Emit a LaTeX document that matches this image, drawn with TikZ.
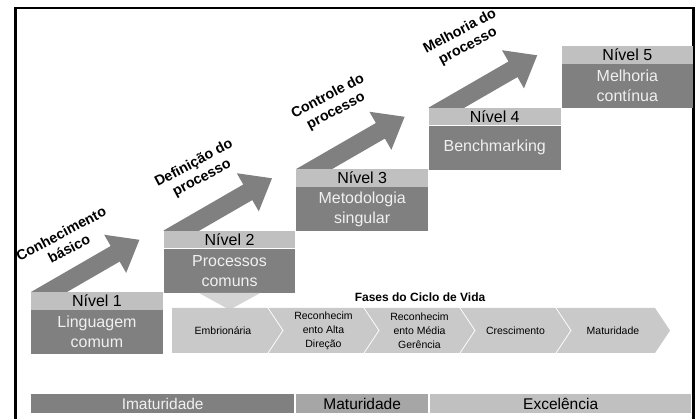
\documentclass[tikz,border=0pt]{standalone}
\usepackage{fontspec}
\setmainfont{Liberation Sans}
\usetikzlibrary{calc}

\definecolor{stepdark}{RGB}{128,128,128}
\definecolor{hdrgray}{RGB}{192,192,192}
\definecolor{bodytext}{RGB}{240,240,240}
\definecolor{chevfill}{RGB}{201,201,201}
\definecolor{trifill}{RGB}{212,212,212}
\definecolor{midgray}{RGB}{166,166,166}
\definecolor{lightbar}{RGB}{192,192,192}

\begin{document}
\begin{tikzpicture}[x=1pt, y=-1pt,
  hdr/.style={fill=hdrgray, minimum width=131.5pt, minimum height=17.5pt,
    inner sep=0pt, anchor=north west, font=\fontsize{16}{20}\selectfont},
  bodybox/.style={fill=stepdark, text=bodytext, minimum width=131.5pt,
    minimum height=44pt, inner sep=0pt, anchor=north west, align=center,
    font=\fontsize{16}{20}\selectfont},
  blockarrow/.style={fill=stepdark},
  steplabel/.style={font=\bfseries\fontsize{14.3}{17}\selectfont, align=center,
    inner sep=0pt, rotate=28},
  phasetext/.style={font=\fontsize{10.5}{14}\selectfont, align=center, inner sep=0pt},
  sep/.style={draw=white, line width=0.8pt},
  bar/.style={minimum height=19pt, inner sep=0pt, anchor=north west,
    font=\fontsize{15.5}{18}\selectfont}
]
\useasboundingbox (0,0) rectangle (697,419);

% outer frame (open at the bottom)
\draw[line width=2.5pt] (15.5,419) -- (15.5,8) -- (693.5,8) -- (693.5,419);

% top-left corners of the five levels
\coordinate (c1) at (31,292);
\coordinate (c2) at (163.6,230.5);
\coordinate (c3) at (296.2,169);
\coordinate (c4) at (428.8,107.5);
\coordinate (c5) at (561.4,46);

% rising block arrows, tails hidden under the level headers
\foreach \i in {1,...,4}{
  \fill[blockarrow, shift={(c\i)}, rotate=30]
    (0,0) -- (92,0) -- (92,-13) -- (120,9) -- (92,31) -- (92,18) -- (0,18) -- cycle;
}

% levels
\node[hdr] (h1) at (c1) {Nível 1};
\node[bodybox] (b1) at (h1.south west) {Linguagem\\comum};
\node[hdr] (h2) at (c2) {Nível 2};
\node[bodybox] (b2) at (h2.south west) {Processos\\comuns};
\node[hdr] (h3) at (c3) {Nível 3};
\node[bodybox] (b3) at (h3.south west) {Metodologia\\singular};
\node[hdr] (h4) at (c4) {Nível 4};
\node[bodybox] (b4) at (h4.south west) {Benchmarking};
\node[hdr] (h5) at (c5) {Nível 5};
\node[bodybox] (b5) at (h5.south west) {Melhoria\\contínua};

% arrow labels
\node[steplabel] (t1) at (65,241) {Conhecimento\\básico};
\node[steplabel] (t2) at (198,171) {Definição do\\processo};
\node[steplabel] (t3) at (332,104) {Controle do\\processo};
\node[steplabel] (t4) at (464,39) {Melhoria do\\processo};

% pointer from level 2 down to the life-cycle band
\fill[trifill] (b2.south) ++(-31,0) -- ++(62,0) -- ++(-31,17) -- cycle;

% life-cycle chevron band
\node[font=\bfseries\fontsize{12}{14}\selectfont, inner sep=0pt] (fases) at (420,297) {Fases do Ciclo de Vida};
\fill[chevfill] (172,308) -- (655,308) -- (670,330.5) -- (655,353) -- (172,353) -- cycle;
\foreach \x in {268,364,460,556}{
  \draw[sep] (\x,308) -- (\x+15,330.5) -- (\x,353);
}
\node[phasetext] (p1) at (223,330.5) {Embrionária};
\node[phasetext] (p2) at (323.5,330.5) {Reconhecim\\ento Alta\\Direção};
\node[phasetext] (p3) at (419.5,330.5) {Reconhecim\\ento Média\\Gerência};
\node[phasetext] (p4) at (515.5,330.5) {Crescimento};
\node[phasetext] (p5) at (613,330.5) {Maturidade};

% maturity bar
\node[bar, fill=stepdark, text=bodytext, minimum width=263pt] (imat) at (31,394) {Imaturidade};
\node[bar, fill=midgray, minimum width=132pt] (mat) at (296,394) {Maturidade};
\node[bar, fill=lightbar, minimum width=261pt] (exc) at (430,394) {Excelência};
\end{tikzpicture}
\end{document}
